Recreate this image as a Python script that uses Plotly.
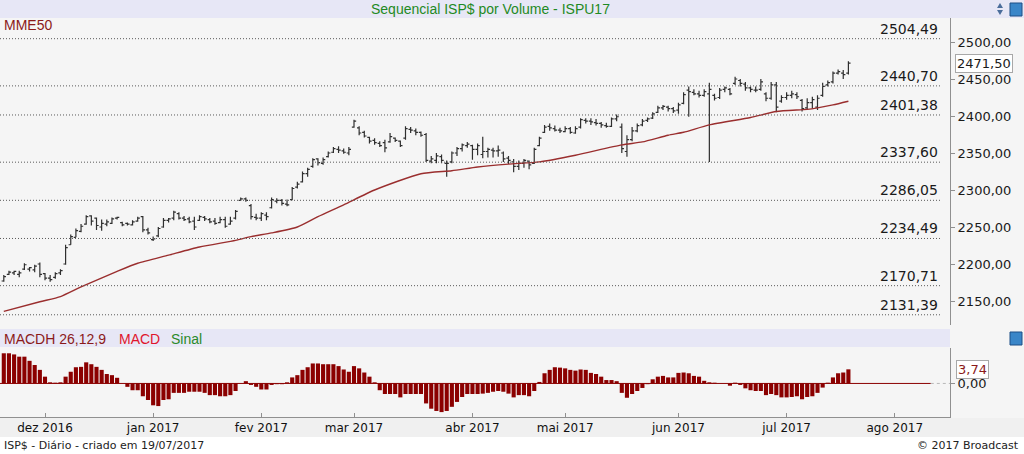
import pandas as pd
import plotly.graph_objects as go

# ---------------- data ----------------
holidays = ["2016-12-30", "2017-01-25", "2017-02-27", "2017-02-28",
            "2017-04-14", "2017-04-21", "2017-05-01", "2017-06-15"]
all_days = [d for d in pd.bdate_range("2016-11-21", "2017-08-18")
            if d.strftime("%Y-%m-%d") not in holidays]

opens = [
    2177, 2186, 2188, 2186, 2193, 2193, 2192, 2200, 2187, 2181,
    2182, 2188, 2200, 2226, 2236, 2244, 2254, 2265, 2262, 2250,
    2254, 2255, 2262, 2256, 2255, 2253, 2258, 2264, 2246, 2233,
    2238, 2250, 2259, 2262, 2268, 2262, 2261, 2258, 2259, 2263,
    2260, 2258, 2256, 2260, 2254, 2262, 2286, 2288, 2279, 2263,
    2262, 2266, 2276, 2285, 2286, 2281, 2287, 2304, 2311, 2322,
    2332, 2342, 2336, 2345, 2351, 2355, 2353, 2350, 2385, 2384,
    2378, 2371, 2367, 2363, 2364, 2365, 2370, 2366, 2370, 2382,
    2380, 2378, 2375, 2339, 2340, 2345, 2336, 2338, 2350, 2356,
    2360, 2360, 2355, 2348, 2352, 2354, 2353, 2350, 2343, 2338,
    2332, 2336, 2339, 2336, 2360, 2378, 2386, 2383, 2381, 2379,
    2383, 2377, 2385, 2394, 2393, 2391, 2390, 2387, 2386, 2396,
    2385, 2352, 2368, 2380, 2388, 2394, 2397, 2405, 2411, 2412,
    2410, 2408, 2417, 2435, 2432, 2430, 2428, 2430, 2428, 2425,
    2436, 2436, 2444, 2448, 2443, 2438, 2435, 2436, 2430, 2424,
    2442, 2420, 2425, 2428, 2429, 2421, 2411, 2418, 2412, 2428,
    2442, 2446, 2458, 2458, 2458]

highs = [
    2185, 2191, 2191, 2191, 2201, 2196, 2199, 2202, 2188, 2185,
    2189, 2193, 2226, 2240, 2248, 2254, 2266, 2266, 2263, 2260,
    2260, 2263, 2264, 2257, 2256, 2259, 2264, 2265, 2249, 2237,
    2250, 2262, 2262, 2272, 2270, 2265, 2264, 2264, 2266, 2265,
    2262, 2262, 2264, 2264, 2264, 2273, 2290, 2290, 2281, 2268,
    2270, 2270, 2290, 2289, 2288, 2287, 2304, 2311, 2325, 2330,
    2343, 2343, 2344, 2352, 2358, 2359, 2356, 2358, 2395, 2386,
    2380, 2372, 2370, 2366, 2368, 2377, 2371, 2367, 2386, 2385,
    2383, 2379, 2377, 2346, 2350, 2348, 2340, 2352, 2358, 2363,
    2365, 2361, 2363, 2372, 2357, 2357, 2360, 2352, 2346, 2342,
    2340, 2342, 2340, 2357, 2372, 2388, 2390, 2387, 2384, 2386,
    2385, 2386, 2397, 2397, 2397, 2396, 2392, 2391, 2398, 2402,
    2390, 2374, 2385, 2390, 2396, 2398, 2405, 2414, 2415, 2414,
    2412, 2418, 2432, 2440, 2436, 2434, 2436, 2445, 2430, 2438,
    2440, 2438, 2453, 2450, 2446, 2440, 2440, 2450, 2432, 2446,
    2446, 2428, 2432, 2434, 2432, 2423, 2424, 2426, 2428, 2445,
    2448, 2460, 2463, 2462, 2474]

lows = [
    2176, 2185, 2185, 2182, 2192, 2190, 2189, 2182, 2178, 2176,
    2180, 2185, 2199, 2226, 2236, 2243, 2253, 2252, 2246, 2245,
    2251, 2254, 2260, 2251, 2252, 2252, 2257, 2243, 2240, 2231,
    2236, 2249, 2256, 2259, 2260, 2258, 2255, 2246, 2258, 2258,
    2255, 2253, 2255, 2249, 2253, 2260, 2285, 2284, 2260, 2259,
    2258, 2259, 2275, 2282, 2279, 2278, 2286, 2302, 2310, 2318,
    2330, 2333, 2334, 2344, 2350, 2350, 2349, 2347, 2384, 2374,
    2371, 2363, 2361, 2358, 2351, 2364, 2365, 2358, 2368, 2377,
    2374, 2372, 2338, 2336, 2336, 2336, 2318, 2336, 2346, 2352,
    2357, 2341, 2347, 2343, 2344, 2344, 2345, 2338, 2335, 2324,
    2327, 2330, 2328, 2335, 2359, 2377, 2380, 2379, 2377, 2378,
    2376, 2376, 2383, 2390, 2388, 2387, 2384, 2384, 2385, 2393,
    2350, 2345, 2366, 2378, 2386, 2392, 2396, 2404, 2408, 2406,
    2404, 2403, 2416, 2399, 2428, 2425, 2426, 2338, 2421, 2423,
    2432, 2428, 2442, 2440, 2434, 2432, 2432, 2434, 2420, 2422,
    2405, 2418, 2422, 2424, 2423, 2406, 2408, 2410, 2408, 2426,
    2440, 2444, 2456, 2450, 2456]

closes = [
    2183, 2189, 2190, 2188, 2199, 2195, 2197, 2186, 2181, 2179,
    2187, 2191, 2222, 2237, 2245, 2251, 2264, 2258, 2252, 2255,
    2257, 2261, 2263, 2253, 2254, 2257, 2262, 2246, 2242, 2234,
    2248, 2259, 2261, 2270, 2262, 2260, 2257, 2250, 2264, 2261,
    2257, 2255, 2260, 2251, 2258, 2271, 2288, 2286, 2264, 2262,
    2268, 2264, 2287, 2286, 2282, 2280, 2302, 2308, 2322, 2328,
    2341, 2337, 2341, 2350, 2356, 2354, 2351, 2355, 2393, 2377,
    2373, 2366, 2364, 2360, 2357, 2372, 2367, 2360, 2383, 2381,
    2378, 2374, 2340, 2342, 2346, 2340, 2336, 2350, 2356, 2361,
    2362, 2355, 2360, 2352, 2355, 2353, 2354, 2342, 2340, 2332,
    2336, 2340, 2334, 2355, 2370, 2385, 2384, 2381, 2380, 2383,
    2378, 2383, 2395, 2393, 2392, 2390, 2388, 2386, 2396, 2399,
    2356, 2368, 2380, 2387, 2393, 2396, 2403, 2411, 2413, 2410,
    2407, 2415, 2429, 2433, 2430, 2428, 2433, 2436, 2424, 2435,
    2438, 2430, 2450, 2444, 2438, 2436, 2435, 2446, 2424, 2442,
    2412, 2425, 2428, 2430, 2426, 2410, 2418, 2422, 2424, 2440,
    2445, 2458, 2460, 2456, 2471.5]

# MME50 read at selected bars (bar number, value)
ema_bar = [0, 7, 11, 15, 22, 26, 32, 38, 45, 48, 52, 57, 61, 66, 72, 81, 87, 92,
           98, 104, 111, 120, 124, 129, 132, 137, 145, 150, 156, 158, 161, 164]
ema_val = [2136, 2149, 2156, 2169, 2190, 2201, 2212, 2223, 2232, 2237, 2242, 2250,
           2264, 2280, 2300, 2322, 2326, 2331, 2335, 2338, 2347, 2361, 2365, 2374,
           2378, 2388, 2398, 2406, 2409, 2411, 2415, 2420]

macdh = [
    8.0, 8.0, 7.7, 7.1, 7.1, 6.0, 4.9, 3.6, 1.8, 0.3,
    0.2, 0.3, 1.8, 3.1, 4.3, 4.4, 5.6, 5.1, 4.4, 3.6,
    2.5, 2.2, 1.5, 0.0, -0.9, -1.8, -1.8, -3.4, -4.4, -5.8,
    -6.0, -4.4, -4.2, -2.5, -2.5, -2.5, -2.2, -2.2, -2.2, -2.5,
    -3.1, -3.1, -3.4, -3.4, -3.1, -2.0, 0.0, 0.6, -0.4, -0.9,
    -1.6, -1.6, -0.4, -0.2, -0.2, 0.3, 1.6, 2.2, 3.6, 4.3,
    5.3, 5.3, 5.1, 5.1, 5.1, 4.6, 3.7, 3.1, 4.6, 4.0,
    2.9, 1.8, 0.3, -1.8, -2.8, -2.8, -2.8, -3.7, -2.8, -2.8,
    -2.8, -2.8, -5.3, -6.7, -7.3, -7.6, -7.3, -6.2, -4.9, -3.6,
    -2.8, -2.8, -2.8, -2.7, -2.5, -2.2, -2.0, -2.2, -2.7, -3.7,
    -3.1, -3.1, -3.4, -2.0, 0.4, 2.7, 3.6, 4.3, 4.2, 4.0,
    3.6, 3.4, 3.7, 3.6, 2.8, 2.5, 1.8, 0.9, 0.9, 0.6,
    -2.5, -3.8, -2.8, -2.0, -1.2, -0.2, 1.1, 1.8, 2.0, 1.6,
    1.6, 2.8, 2.9, 2.7, 2.0, 1.8, 0.7, 0.3, 0.2, 0.0,
    0.0, -0.6, 0.2, -0.4, -1.3, -1.8, -2.0, -2.0, -3.1, -2.8,
    -3.1, -3.7, -3.7, -3.6, -3.4, -4.2, -3.6, -3.4, -2.5, -1.1,
    0.2, 1.6, 2.7, 2.9, 3.74]

levels = [2504.49, 2440.70, 2401.38, 2337.60, 2286.05, 2234.49, 2170.71, 2131.39]
price_ticks = [2150, 2200, 2250, 2300, 2350, 2400, 2450, 2500]
month_names = ["jan", "fev", "mar", "abr", "mai", "jun",
               "jul", "ago", "set", "out", "nov", "dez"]
future_days = 16  # projected (empty) trading days shown after the last bar

# ---------------- helpers ----------------
n = len(closes)
bar_idx = list(range(n))
tick_idx, tick_txt = [], []
for i, d in enumerate(all_days):
    if i > 0 and d.month != all_days[i - 1].month:
        tick_idx.append(i)
        tick_txt.append(f"{month_names[d.month - 1]} {d.year}")


def br(v, nd=2):
    return f"{v:.{nd}f}".replace(".", ",")


W, H = 1024, 454
ML, MR, MT, MB = 0, 74, 18, 37
PW, PH = W - ML - MR, H - MT - MB


def px(x):
    return (x - ML) / PW


def py(y):
    return (H - MB - y) / PH


x_lo = -0.738
x_hi = x_lo + PW / 5.15
GREY = "#909090"
AX_FONT = dict(family="DejaVu Sans", size=13, color="#1a1a1a")

fig = go.Figure()

fig.add_trace(go.Ohlc(
    x=bar_idx, open=opens, high=highs, low=lows, close=closes,
    increasing=dict(line=dict(color="#2f2f2f", width=1.2)),
    decreasing=dict(line=dict(color="#2f2f2f", width=1.2)),
    tickwidth=0.42, xaxis="x", yaxis="y", hoverinfo="skip", showlegend=False))

fig.add_trace(go.Scatter(
    x=ema_bar, y=ema_val, mode="lines",
    line=dict(color="#9a2e2e", width=1.4, shape="spline", smoothing=0.6),
    xaxis="x", yaxis="y", hoverinfo="skip", showlegend=False))

fig.add_trace(go.Bar(
    x=bar_idx, y=macdh, width=0.8,
    marker=dict(color="#8b0000", line=dict(width=0)),
    xaxis="x2", yaxis="y2", hoverinfo="skip", showlegend=False))

shapes = [
    dict(type="rect", xref="paper", yref="paper", x0=px(0), x1=px(W), y0=py(18), y1=py(0),
         fillcolor="#e7e7f6", line=dict(width=0), layer="below"),
    dict(type="rect", xref="paper", yref="paper", x0=px(0), x1=px(950), y0=py(347), y1=py(329),
         fillcolor="#e7e7f6", line=dict(width=0), layer="below"),
    dict(type="rect", xref="paper", yref="paper", x0=px(0), x1=px(W), y0=py(437), y1=py(418),
         fillcolor="#f0f0f0", line=dict(width=0), layer="below"),
    dict(type="rect", xref="paper", yref="paper", x0=px(0), x1=px(W), y0=py(H), y1=py(437),
         fillcolor="#ffffff", line=dict(width=0), layer="below"),
    # zero line of the histogram (with projected part)
    dict(type="line", xref="x2", yref="y2", x0=x_lo, x1=n - 1 + future_days, y0=0, y1=0,
         line=dict(color="#8b0000", width=1)),
    dict(type="line", xref="x2", yref="y2", x0=n - 1 + future_days, x1=x_hi, y0=0, y1=0,
         line=dict(color="#b8b8b8", width=1, dash="3px,3px")),
    # icons
    dict(type="path", xref="paper", yref="paper",
         path=f"M {px(997)},{py(8)} L {px(1003)},{py(8)} L {px(1000)},{py(3)} Z",
         fillcolor="#4b6d9b", line=dict(width=0)),
    dict(type="path", xref="paper", yref="paper",
         path=f"M {px(997)},{py(10)} L {px(1003)},{py(10)} L {px(1000)},{py(15)} Z",
         fillcolor="#4b6d9b", line=dict(width=0)),
    dict(type="rect", xref="paper", yref="paper", x0=px(1010), x1=px(1022), y0=py(16), y1=py(3),
         fillcolor="#3a86c8", line=dict(color="#1d4f86", width=1)),
    dict(type="rect", xref="paper", yref="paper", x0=px(1010), x1=px(1022), y0=py(345), y1=py(332),
         fillcolor="#3a86c8", line=dict(color="#1d4f86", width=1)),
]
for lv in levels:
    shapes.append(dict(type="line", xref="paper", yref="y", x0=px(0), x1=px(940), y0=lv, y1=lv,
                       line=dict(color="#5a5a5a", width=1, dash="1px,2px")))

annotations = [
    dict(text="Sequencial ISP$ por Volume - ISPU17", xref="paper", yref="paper",
         x=px(490), y=py(9), xanchor="center", yanchor="middle", showarrow=False,
         font=dict(family="Liberation Sans", size=14, color="#1f8a24")),
    dict(text="MME50", xref="paper", yref="paper", x=px(2), y=py(25),
         xanchor="left", yanchor="middle", showarrow=False,
         font=dict(family="Liberation Sans", size=14, color="#8b1a1a")),
    dict(text="MACDH 26,12,9", xref="paper", yref="paper", x=px(2), y=py(339),
         xanchor="left", yanchor="middle", showarrow=False,
         font=dict(family="Liberation Sans", size=14, color="#8b1a1a")),
    dict(text="MACD", xref="paper", yref="paper", x=px(117), y=py(339),
         xanchor="left", yanchor="middle", showarrow=False,
         font=dict(family="Liberation Sans", size=14, color="#e0142c")),
    dict(text="Sinal", xref="paper", yref="paper", x=px(169), y=py(339),
         xanchor="left", yanchor="middle", showarrow=False,
         font=dict(family="Liberation Sans", size=14, color="#2a8a2a")),
    dict(text="ISP$ - Diário - criado em 19/07/2017", xref="paper", yref="paper",
         x=px(2), y=py(445), xanchor="left", yanchor="middle", showarrow=False,
         font=dict(family="DejaVu Sans", size=11, color="#222222")),
    dict(text="© 2017 Broadcast", xref="paper", yref="paper",
         x=px(1021), y=py(445), xanchor="right", yanchor="middle", showarrow=False,
         font=dict(family="DejaVu Sans", size=11, color="#222222")),
    dict(text=br(closes[-1]), xref="paper", yref="y", x=px(955), y=closes[-1],
         xanchor="left", yanchor="middle", showarrow=False,
         bgcolor="#ffffff", bordercolor="#a8a8a8", borderwidth=1, borderpad=1,
         font=dict(family="DejaVu Sans", size=13, color="#1a1a1a")),
    dict(text=br(macdh[-1]), xref="paper", yref="y2", x=px(956), y=macdh[-1],
         xanchor="left", yanchor="middle", showarrow=False,
         bgcolor="#ffffff", bordercolor="#a8a8a8", borderwidth=1, borderpad=1,
         font=dict(family="DejaVu Sans", size=13, color="#8b1a1a")),
]
for lv in levels:
    annotations.append(dict(text=br(lv), xref="paper", yref="y", x=px(940), y=lv,
                            xanchor="right", yanchor="bottom", showarrow=False, yshift=0,
                            font=dict(family="DejaVu Sans", size=14, color="#1a1a1a")))

fig.update_layout(
    width=W, height=H, autosize=False,
    margin=dict(l=ML, r=MR, t=MT, b=MB, pad=0),
    paper_bgcolor="#f5f5f5", plot_bgcolor="#f5f5f5",
    separators=",.",
    font=dict(family="DejaVu Sans", size=13, color="#1a1a1a"),
    showlegend=False, bargap=0.2, hovermode=False,
    xaxis=dict(domain=[0, 1], range=[x_lo, x_hi], anchor="y", showticklabels=False,
               showgrid=False, zeroline=False, showline=False, ticks="",
               rangeslider=dict(visible=False), matches="x2"),
    yaxis=dict(domain=[py(325), 1], range=[2500 - (325 - 42) / 0.74, 2500 + (42 - 18) / 0.74],
               side="right", anchor="x", tickvals=price_ticks,
               ticktext=[br(v) for v in price_ticks], tickfont=AX_FONT,
               ticks="outside", ticklen=4, tickcolor=GREY, showline=True, linecolor=GREY,
               linewidth=1, showgrid=False, zeroline=False, automargin=False),
    xaxis2=dict(domain=[0, 1], range=[x_lo, x_hi], anchor="y2", tickvals=tick_idx,
                ticktext=tick_txt, tickfont=dict(family="DejaVu Sans", size=12, color="#111111"),
                ticks="inside", ticklen=4, tickcolor=GREY, showline=True, linecolor=GREY,
                linewidth=1, showgrid=False, zeroline=False, automargin=False),
    yaxis2=dict(domain=[0, py(348)], range=[-8.9, 9.4], side="right", anchor="x2",
                tickvals=[0], ticktext=[br(0)], tickfont=AX_FONT,
                ticks="outside", ticklen=4, tickcolor=GREY, showline=True, linecolor=GREY,
                linewidth=1, showgrid=False, zeroline=False, automargin=False),
    shapes=shapes, annotations=annotations,
)

fig.write_html(
    "out.html",
    config={"displayModeBar": False, "staticPlot": True},
    post_script="document.body.style.margin='0';document.body.style.padding='0';"
                "document.documentElement.style.overflow='hidden';",
)
